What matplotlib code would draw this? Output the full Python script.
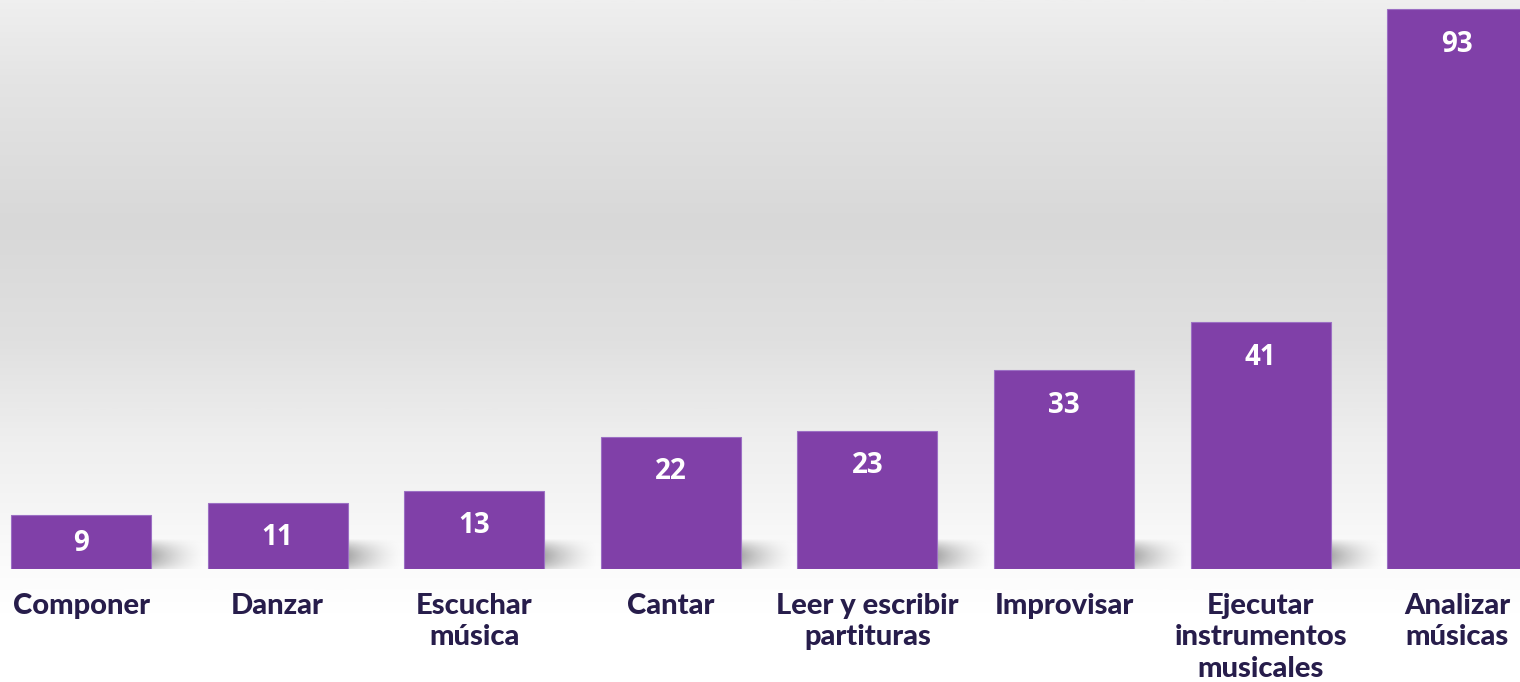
import numpy as np
import matplotlib.pyplot as plt
from matplotlib.colors import LinearSegmentedColormap

categories = ['Componer', 'Danzar', 'Escuchar\nmúsica', 'Cantar',
              'Leer y escribir\npartituras', 'Improvisar',
              'Ejecutar\ninstrumentos\nmusicales', 'Analizar\nmúsicas']
values = [9, 11, 13, 22, 23, 33, 41, 93]

BAR_COLOR = '#8040A8'
LABEL_COLOR = '#271D4B'


def draw_background(fig):
    bg = fig.add_axes([0, 0, 1, 1], zorder=0)
    # grey band near the top fading to white at the bottom
    stops = [(0.0, '#EFEFEF'), (0.12, '#E4E4E4'), (0.33, '#D8D8D8'),
             (0.50, '#E0E0E0'), (0.65, '#EFEFEF'), (0.80, '#F9F9F9'),
             (0.90, '#FFFFFF'), (1.0, '#FFFFFF')]
    cmap = LinearSegmentedColormap.from_list('bg', stops)
    grad = np.linspace(0, 1, 400).reshape(-1, 1)
    bg.imshow(grad, cmap=cmap, aspect='auto', extent=[0, 1, 0, 1],
              origin='upper', vmin=0, vmax=1)
    bg.axis('off')


def draw_shadow(ax, bar):
    x1 = bar.get_x() + bar.get_width()
    w = bar.get_width() * 0.4
    h = 5.0
    u = np.linspace(0, 1, 60)
    v = np.linspace(0, 1, 30)
    U, V = np.meshgrid(u, v)
    alpha = 0.32 * (1 - U) ** 1.6 * np.clip(np.sin(np.pi * (V * 0.85 + 0.15)), 0, 1)
    img = np.zeros((30, 60, 4))
    img[..., 3] = alpha
    ax.imshow(img, extent=[x1, x1 + w, 0, h], origin='lower',
              aspect='auto', zorder=1, interpolation='bilinear')


def main():
    fig = plt.figure(figsize=(15.2, 6.82), dpi=100)
    draw_background(fig)

    step = 196.6
    ax = fig.add_axes([0, 113 / 682, 1, 569 / 682], zorder=1)
    ax.patch.set_alpha(0)
    x = np.arange(len(values))
    bars = ax.bar(x, values, width=140 / step, color=BAR_COLOR,
                  edgecolor='#9C70C4', linewidth=0.8, zorder=2)

    for bar in bars:
        draw_shadow(ax, bar)

    for xi, v in zip(x, values):
        y = max(v - 5.8, v / 2 - 0.3)
        ax.text(xi, y, str(v), ha='center', va='center', color='white',
                fontsize=20, fontweight='bold', family=['Open Sans', 'DejaVu Sans'],
                zorder=3)

    ax.set_xlim(-81 / step, (1520 - 81) / step)
    ax.set_ylim(0, 569 / 6.02)

    ax.set_xticks(x)
    ax.set_xticklabels(categories, fontsize=21, fontweight='black',
                       color=LABEL_COLOR, family=['Lato', 'DejaVu Sans'],
                       linespacing=1.27)
    ax.tick_params(axis='x', length=0, pad=17)
    ax.set_yticks([])
    for s in ax.spines.values():
        s.set_visible(False)

    fig.savefig('out.png', dpi=100)


if __name__ == '__main__':
    main()
